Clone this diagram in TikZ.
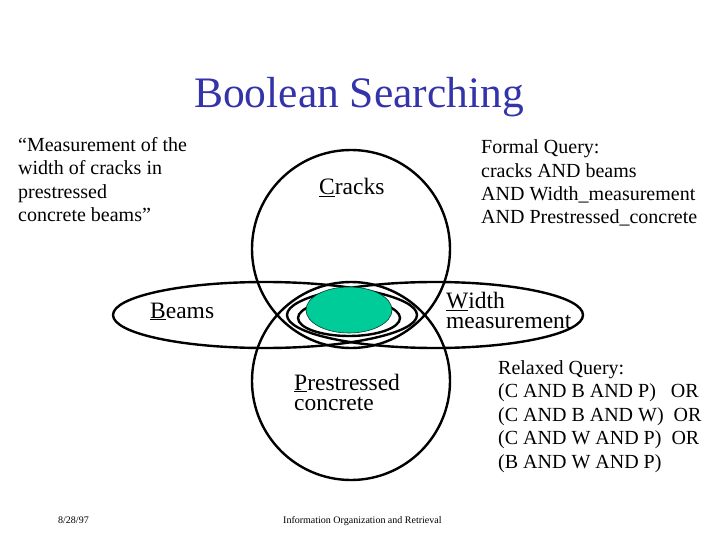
\documentclass[tikz,border=0pt]{standalone}
\usepackage{fontspec}
\setmainfont{Liberation Serif}
\definecolor{titleblue}{RGB}{51,51,170}
\definecolor{hitgreen}{RGB}{0,204,153}
\tikzset{
  setline/.style={line width=2.4pt},
  txt/.style={inner sep=0pt, anchor=base west, align=left},
  setlabel/.style={txt, font=\fontsize{23.5}{20}\selectfont},
  query/.style={txt, font=\fontsize{20}{23.5}\selectfont},
}
\begin{document}
\begin{tikzpicture}[x=1pt,y=-1pt]
\useasboundingbox (0,0) rectangle (720,540);
% title
\node[titleblue, inner sep=0pt, anchor=base, font=\fontsize{43.5}{48}\selectfont] (title) at (359,108) {Boolean Searching};
% the four sets
\draw[setline] (351,249) circle (99);
\draw[setline] (351,381) circle (99);
\draw[setline] (265,315) ellipse (152 and 33);
\draw[setline] (435,315) ellipse (148 and 33);
% the answer set
\draw[setline] (349,318) ellipse (51 and 18);
\draw[fill=hitgreen, draw=black!70!hitgreen, line width=0.6pt] (349,310) ellipse (43 and 23);
% set labels (multi-line nodes sit on their last baseline)
\node[setlabel] (cracks) at (319,195) {\underline{C}racks};
\node[setlabel] (beams) at (150,318) {\underline{B}eams};
\node[setlabel] (width) at (446,328) {\underline{W}idth\\measurement};
\node[setlabel] (prestr) at (294,410) {\underline{P}restressed\\concrete};
% queries
\node[query] (quote) at (18,222) {``Measurement of the\\width of cracks in\\prestressed\\concrete beams''};
\node[query] (formal) at (481,224) {Formal Query:\\cracks AND beams\\AND Width\_measurement\\AND Prestressed\_concrete};
\node[query] (relaxed) at (498,468) {Relaxed Query:\\(C AND B AND P)\ \ \ OR\\(C AND B AND W)\ \ OR\\(C AND W AND P)\ \ OR\\(B AND W AND P)};
% footer
\node[inner sep=0pt, anchor=base west, font=\fontsize{10}{11}\selectfont] (date) at (58,523) {8/28/97};
\node[inner sep=0pt, anchor=base west, font=\fontsize{10}{11}\selectfont] (course) at (283,523) {Information Organization and Retrieval};
\end{tikzpicture}
\end{document}
